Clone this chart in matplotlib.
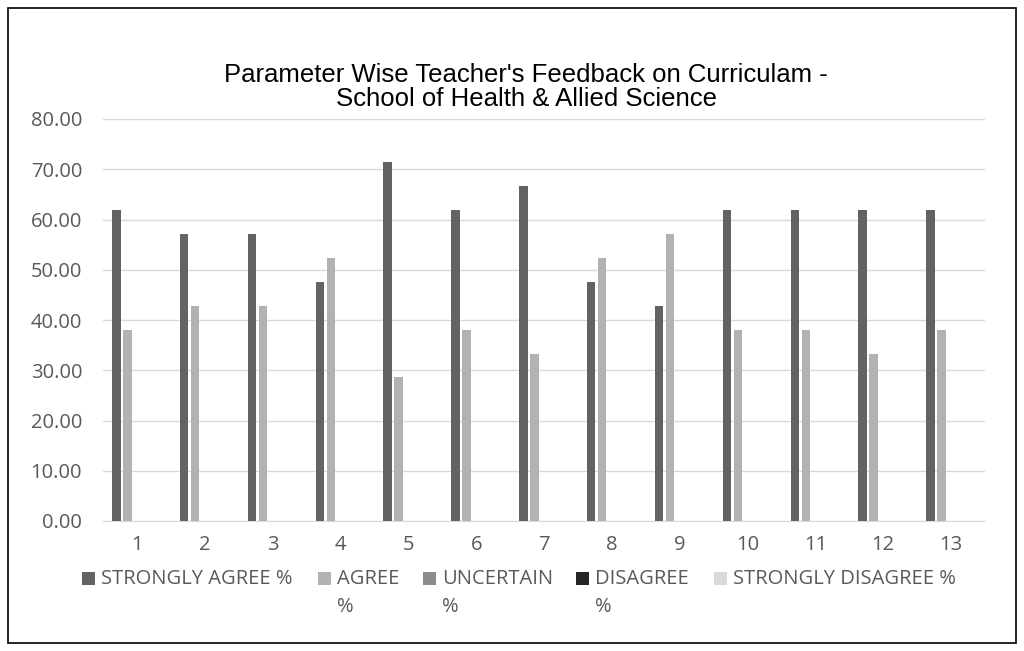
import matplotlib
matplotlib.use("Agg")
import matplotlib.pyplot as plt
from matplotlib.patches import Rectangle
import numpy as np

categories = [str(i) for i in range(1, 14)]
strongly_agree = [61.90, 57.14, 57.14, 47.62, 71.43, 61.90, 66.67, 47.62, 42.86, 61.90, 61.90, 61.90, 61.90]
agree = [38.10, 42.86, 42.86, 52.38, 28.57, 38.10, 33.33, 52.38, 57.14, 38.10, 38.10, 33.33, 38.10]
uncertain = [0] * 13
disagree = [0] * 13
strongly_disagree = [0] * 13
series_labels = ["STRONGLY AGREE %", "AGREE\n%", "UNCERTAIN\n%", "DISAGREE\n%", "STRONGLY DISAGREE %"]
colors = ["#636363", "#b2b2b2", "#8c8c8c", "#262626", "#d9d9d9"]
yticks = [0, 10, 20, 30, 40, 50, 60, 70, 80]

W, H = 1024, 651
fig = plt.figure(figsize=(W / 100, H / 100), dpi=100)
ax = fig.add_axes([103 / W, 1 - 521 / H, (985 - 103) / W, (521 - 119) / H])

x = np.arange(len(categories))
all_series = [strongly_agree, agree, uncertain, disagree, strongly_disagree]
step = 0.162
bw = 0.125
for i, (vals, c) in enumerate(zip(all_series, colors)):
    ax.bar(x + (i - 2) * step + 0.02, vals, width=bw, color=c, zorder=3)

ax.set_xlim(-0.5, len(categories) - 0.5)
ax.set_ylim(0, 80)
ax.set_yticks(yticks)
ax.set_yticklabels([f"{v:.2f}" for v in yticks], fontfamily="Open Sans", fontsize=14.5, color="#595959")
ax.set_xticks(x)
ax.set_xticklabels(categories, fontfamily="Open Sans", fontsize=14.5, color="#595959")
ax.tick_params(axis="y", length=0, pad=15)
ax.tick_params(axis="x", length=0, pad=10)
ax.grid(axis="y", color="#d9d9d9", linewidth=1, zorder=0)
for s in ["top", "right", "left"]:
    ax.spines[s].set_visible(False)
ax.spines["bottom"].set_color("#d9d9d9")

fig.text(526 / W, 1 - 87 / H, "Parameter Wise Teacher's Feedback on Curriculam -\nSchool of Health & Allied Science",
         ha="center", va="center", fontfamily="Liberation Sans", fontsize=18.5, color="#000000", linespacing=0.98)

# legend
leg_x = [82, 318, 423, 576, 714]
for lx, lab, c in zip(leg_x, series_labels, colors):
    fig.patches.append(Rectangle((lx / W, 1 - 585 / H), 13 / W, 13 / H, transform=fig.transFigure,
                                 facecolor=c, edgecolor="none"))
    fig.text((lx + 19) / W, 1 - 569 / H, lab, ha="left", va="top",
             fontfamily="Open Sans", fontsize=14.5, color="#595959", linespacing=1.5,
             multialignment="left")

# outer border
fig.patches.append(Rectangle((8 / W, 8 / H), (W - 16) / W, (H - 16) / H, transform=fig.transFigure,
                             facecolor="none", edgecolor="#000000", linewidth=1.2))

fig.savefig("out.png", dpi=100)
